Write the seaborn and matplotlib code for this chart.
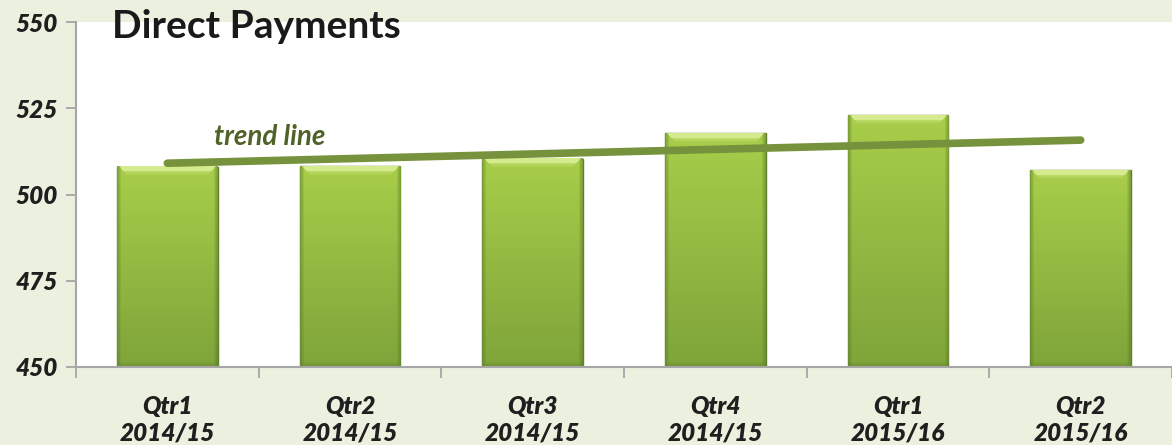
import numpy as np
import pandas as pd
import matplotlib
matplotlib.use("Agg")
import matplotlib.pyplot as plt
import seaborn as sns
from matplotlib.colors import to_rgb

# Quarterly direct payments
quarters = ["Qtr1\n2014/15", "Qtr2\n2014/15", "Qtr3\n2014/15",
            "Qtr4\n2014/15", "Qtr1\n2015/16", "Qtr2\n2015/16"]
payments = [508.1, 508.2, 510.3, 517.8, 523.0, 507.1]
y_ticks = [450, 475, 500, 525, 550]

sns.set_theme(style="white")
plt.rcParams["font.family"] = ["Lato", "DejaVu Sans"]

W, H = 1172, 445
Y_MIN, Y_MAX = 450, 550
fig = plt.figure(figsize=(W / 100, H / 100), dpi=100, facecolor="#ebf1de")
ax = fig.add_axes([76 / W, 1 - 367 / H, 1 - 76 / W, 345 / H])
ax.set_facecolor("white")

df = pd.DataFrame({"quarter": quarters, "payments": payments})
sns.barplot(data=df, x="quarter", y="payments", color="#93bb44",
            width=0.55, edgecolor="#5f7f2c", linewidth=1.0, ax=ax, zorder=2)

ax.set_ylim(Y_MIN, Y_MAX)
ax.set_xlim(-0.5, 5.5)

# Shaded fill with a bevelled top for every bar (only the visible part)
top_c = np.array(to_rgb("#a8ce4a"))
bot_c = np.array(to_rgb("#7fa43a"))
bevel_c = np.array(to_rgb("#dcee96"))
edge_c = np.array(to_rgb("#5a7a28"))
px_per_unit = 345 / (Y_MAX - Y_MIN)
for patch in list(ax.patches):
    x0, w = patch.get_x(), patch.get_width()
    top = patch.get_y() + patch.get_height()
    bottom = Y_MIN
    rows = max(int((top - bottom) * px_per_unit), 2)
    cols = 101
    t = np.linspace(0, 1, rows)[:, None, None]
    img = top_c * (1 - t) + bot_c * t
    img = np.repeat(img, cols, axis=1)
    # light trapezoid bevel along the top
    for r in range(min(9, rows)):
        a = 0.9 if 1 <= r <= 4 else 0.5 * (9 - r) / 5
        img[r, 2 + r:cols - 2 - r] = img[r, 2 + r:cols - 2 - r] * (1 - a) + bevel_c * a
    # darker sides and bottom
    for c in range(4):
        a = 0.55 - c * 0.13
        img[:, c] = img[:, c] * (1 - a) + edge_c * a
        img[:, -1 - c] = img[:, -1 - c] * (1 - a) + edge_c * a
    for r in range(5):
        a = 0.45 - r * 0.09
        img[-1 - r, :] = img[-1 - r, :] * (1 - a) + edge_c * a
    ax.imshow(img, extent=[x0, x0 + w, bottom, top], origin="upper",
              aspect="auto", zorder=2.5, interpolation="bilinear")

ax.set_xlim(-0.5, 5.5)
ax.set_ylim(Y_MIN, Y_MAX)

# Linear trend across the quarters
idx = np.arange(len(payments))
coef = np.polyfit(idx, payments, 1)
ends = np.array([idx[0], idx[-1]])
ax.plot(ends, np.polyval(coef, ends), color="#76923c", lw=5.5,
        solid_capstyle="round", zorder=4)
ax.text(0.56, 516.8, "trend line", fontsize=20, fontweight="bold",
        fontstyle="italic", color="#4f6228", ha="center", va="center", zorder=5)

# Axes styling
ax.set_xlabel("")
ax.set_ylabel("")
ax.set_yticks(y_ticks)
ax.set_yticklabels([str(v) for v in y_ticks], fontsize=17.5, fontweight="heavy",
                   fontstyle="italic", color="#1f1f1f")
ax.set_xticks(idx)
ax.set_xticklabels(quarters, fontsize=17.5, fontweight="heavy", fontstyle="italic",
                   color="#1f1f1f", linespacing=1.2)
ax.set_xticks(np.arange(-0.5, 5.6, 1.0), minor=True)
ax.tick_params(axis="x", which="major", length=0, pad=20)
ax.tick_params(axis="x", which="minor", length=8, width=1.3, color="#a6a6a6",
               direction="out", bottom=True)
ax.tick_params(axis="y", length=7, width=1.3, color="#a6a6a6", direction="out",
               pad=6, left=True)
for side in ("top", "right"):
    ax.spines[side].set_visible(False)
for side in ("left", "bottom"):
    ax.spines[side].set_color("#a6a6a6")
    ax.spines[side].set_linewidth(1.5)
    ax.spines[side].set_zorder(6)

fig.text(112 / W, 1 - 27 / H, "Direct Payments", fontsize=28, fontweight="bold",
         color="#1a1a1a", ha="left", va="center")

fig.savefig("out.png", dpi=100, facecolor=fig.get_facecolor())
